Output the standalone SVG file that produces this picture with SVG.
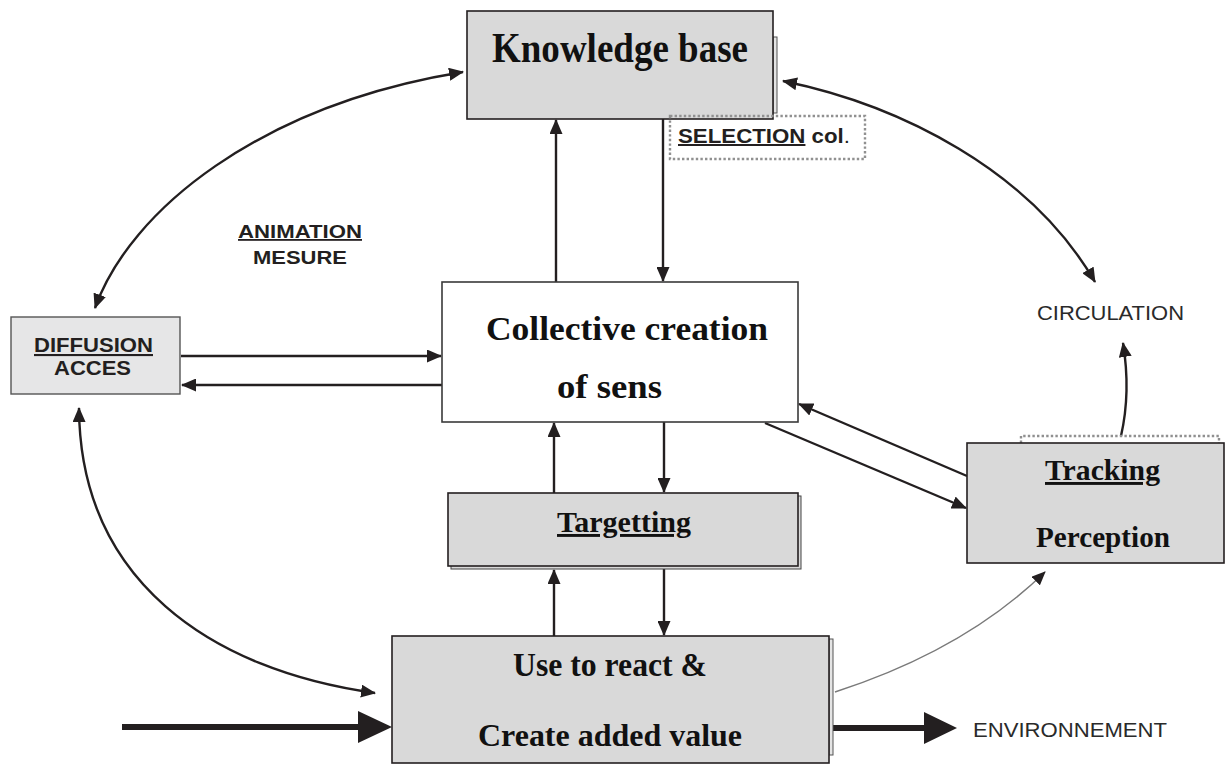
<svg xmlns="http://www.w3.org/2000/svg" width="1232" height="765" viewBox="0 0 1232 765">
  <style>
    .box { fill: #d9d9d9; stroke: #231f20; stroke-width: 1.6; }
    .shadow { fill: #e4e4e4; stroke: #555; stroke-width: 1; }
    .white { fill: #ffffff; stroke: #3a3a3a; stroke-width: 1.6; }
    .light { fill: #e6e6e7; stroke: #555; stroke-width: 1.4; }
    .dotted { fill: none; stroke: #909090; stroke-width: 2.4; stroke-dasharray: 2.4 2.2; }
    .title { font-family: "Liberation Serif", "Times New Roman", serif; font-weight: bold; fill: #111; }
    .label { font-family: "Liberation Sans", Arial, sans-serif; font-weight: bold; fill: #231f20; }
    .plain { font-family: "Liberation Sans", Arial, sans-serif; fill: #2a2a2a; }
    .u { text-decoration: underline; }
    .link { fill: none; stroke: #231f20; stroke-width: 2.4; marker-end: url(#ah); }
    .curve { fill: none; stroke: #231f20; stroke-width: 2.4; marker-end: url(#ah); marker-start: url(#ahs); }
    .heavy { fill: none; stroke: #231f20; stroke-width: 6; }
    .headfill { fill: #231f20; }
  </style>
  <defs>
    <marker id="ah" markerUnits="userSpaceOnUse" markerWidth="15" markerHeight="13" refX="14" refY="6.5" orient="auto">
      <path d="M0,0 L15,6.5 L0,13 z" fill="#231f20"/>
    </marker>
    <marker id="ahs" markerUnits="userSpaceOnUse" markerWidth="15" markerHeight="13" refX="1" refY="6.5" orient="auto">
      <path d="M15,0 L0,6.5 L15,13 z" fill="#231f20"/>
    </marker>
    <marker id="ahg" markerUnits="userSpaceOnUse" markerWidth="14" markerHeight="12" refX="13" refY="6" orient="auto">
      <path d="M0,0 L14,6 L0,12 z" fill="#231f20"/>
    </marker>
  </defs>

  <!-- connectors -->
  <g id="connectors">
    <!-- Knowledge base <-> Collective creation -->
    <line class="link" x1="556" y1="282" x2="556" y2="120"/>
    <line class="link" x1="663" y1="119" x2="663" y2="281"/>
    <!-- Diffusion <-> Collective creation -->
    <line class="link" x1="181" y1="356" x2="441" y2="356"/>
    <line class="link" x1="442" y1="385" x2="182" y2="385"/>
    <!-- Collective creation <-> Targetting -->
    <line class="link" x1="554" y1="493" x2="554" y2="423"/>
    <line class="link" x1="664" y1="422" x2="664" y2="492"/>
    <!-- Targetting <-> Use -->
    <line class="link" x1="554" y1="636" x2="554" y2="570"/>
    <line class="link" x1="664" y1="569" x2="664" y2="635"/>
    <!-- Collective creation <-> Tracking -->
    <line class="link" x1="967" y1="476" x2="799" y2="404"/>
    <line class="link" x1="765" y1="423" x2="966" y2="508"/>
    <!-- Tracking -> Circulation -->
    <path class="link" d="M1121,436 Q1131,392 1123,343"/>
    <!-- curved two-way links -->
    <path class="curve" d="M95,308 C130,210 260,105 463,72"/>
    <path class="curve" d="M783,81 C900,105 1030,170 1095,282"/>
    <path class="curve" d="M79,408 C80,580 210,670 375,693"/>
    <!-- Use -> Tracking (thin) -->
    <path d="M835,692 Q965,650 1045,572" fill="none" stroke="#7a7a7a" stroke-width="1.4" marker-end="url(#ahg)"/>
    <!-- heavy input / output arrows -->
    <line class="heavy" x1="122" y1="727" x2="362" y2="727"/>
    <polygon class="headfill" points="358,711 392,727 358,743"/>
    <line class="heavy" x1="830" y1="728" x2="928" y2="728"/>
    <polygon class="headfill" points="924,712 957,728 924,744"/>
  </g>

  <!-- Knowledge base -->
  <g id="knowledge-base">
    <rect class="shadow" x="773" y="37" width="4" height="76"/>
    <rect class="box" x="467" y="11" width="306" height="108"/>
    <text class="title" x="492" y="62" font-size="42" textLength="256" lengthAdjust="spacingAndGlyphs">Knowledge base</text>
  </g>

  <!-- Selection col. label -->
  <g id="selection">
    <rect class="dotted" x="670" y="116" width="195" height="43"/>
    <text class="label" x="678" y="143" font-size="20" textLength="172" lengthAdjust="spacingAndGlyphs"><tspan class="u">SELECTION</tspan> col<tspan font-weight="normal">.</tspan></text>
  </g>

  <!-- Animation / Mesure label -->
  <g id="animation">
    <text class="label" x="238" y="238" font-size="18" textLength="124" lengthAdjust="spacingAndGlyphs"><tspan class="u">ANIMATION</tspan></text>
    <text class="label" x="253" y="264" font-size="18" textLength="94" lengthAdjust="spacingAndGlyphs">MESURE</text>
  </g>

  <!-- Diffusion / Acces -->
  <g id="diffusion">
    <rect class="light" x="11" y="317" width="169" height="77"/>
    <text class="label" x="34" y="352" font-size="21" textLength="119" lengthAdjust="spacingAndGlyphs"><tspan class="u">DIFFUSION</tspan></text>
    <text class="label" x="54" y="375" font-size="21" textLength="77" lengthAdjust="spacingAndGlyphs">ACCES</text>
  </g>

  <!-- Collective creation of sens -->
  <g id="collective">
    <rect class="white" x="442" y="282" width="356" height="140"/>
    <text class="title" x="486" y="340" font-size="33" textLength="282" lengthAdjust="spacingAndGlyphs">Collective creation</text>
    <text class="title" x="557" y="398" font-size="33" textLength="105" lengthAdjust="spacingAndGlyphs">of sens</text>
  </g>

  <!-- Circulation -->
  <g id="circulation">
    <text class="plain" x="1037" y="320" font-size="20" textLength="147" lengthAdjust="spacingAndGlyphs">CIRCULATION</text>
  </g>

  <!-- Tracking / Perception -->
  <g id="tracking">
    <path class="dotted" d="M1021,443 L1021,436 L1219,436 L1219,443"/>
    <rect class="box" x="967" y="443" width="257" height="120"/>
    <text class="title" x="1045" y="480" font-size="29" textLength="115" lengthAdjust="spacingAndGlyphs"><tspan class="u">Tracking</tspan></text>
    <text class="title" x="1036" y="547" font-size="29" textLength="134" lengthAdjust="spacingAndGlyphs">Perception</text>
  </g>

  <!-- Targetting -->
  <g id="targetting">
    <rect class="shadow" x="451" y="496" width="350" height="73" style="fill:#d9d9d9;stroke:#444"/>
    <rect class="box" x="448" y="493" width="350" height="73"/>
    <text class="title" x="557" y="532" font-size="29" textLength="134" lengthAdjust="spacingAndGlyphs"><tspan class="u">Targetting</tspan></text>
  </g>

  <!-- Use to react & Create added value -->
  <g id="use">
    <rect class="shadow" x="829" y="639" width="4" height="116"/>
    <rect class="box" x="392" y="636" width="437" height="127"/>
    <text class="title" x="513" y="676" font-size="33" textLength="194" lengthAdjust="spacingAndGlyphs">Use to react &amp;</text>
    <text class="title" x="478" y="746" font-size="32" textLength="264" lengthAdjust="spacingAndGlyphs">Create added value</text>
  </g>

  <!-- Environnement -->
  <g id="environnement">
    <text class="plain" x="973" y="737" font-size="21" textLength="194" lengthAdjust="spacingAndGlyphs">ENVIRONNEMENT</text>
  </g>
</svg>
